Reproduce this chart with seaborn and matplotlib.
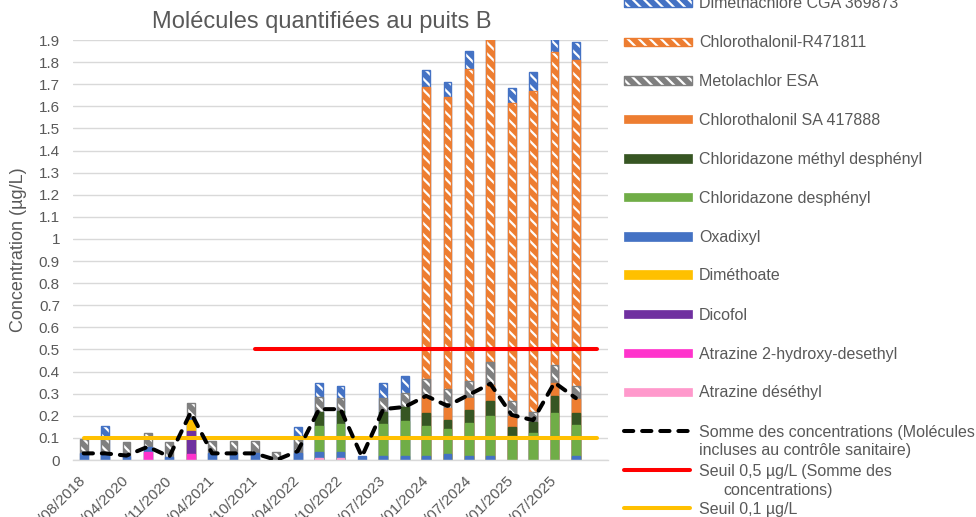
import numpy as np
import pandas as pd
import matplotlib
matplotlib.use("Agg")
import matplotlib.pyplot as plt
import seaborn as sns
from matplotlib.patches import Rectangle
from matplotlib.lines import Line2D

# ------------------------------------------------------------------ data
title = "Molécules quantifiées au puits B"
y_label = "Concentration (µg/L)"

# 25 sampling categories (only every other date label is displayed)
category_index = list(range(25))
x_tick_positions = [0, 2, 4, 6, 8, 10, 12, 14, 16, 18, 20, 22]
x_tick_labels = ["/08/2018", "/04/2020", "/11/2020", "/04/2021", "/10/2021", "/04/2022",
                 "/10/2022", "/07/2023", "/01/2024", "/07/2024", "/01/2025", "/07/2025"]

y_ticks = [0, 0.1, 0.2, 0.3, 0.4, 0.5, 0.6, 0.7, 0.8, 0.9, 1.0,
           1.1, 1.2, 1.3, 1.4, 1.5, 1.6, 1.7, 1.8, 1.9]
y_tick_labels = ["0", "0.1", "0.2", "0.3", "0.4", "0.5", "0.6", "0.7", "0.8", "0.9", "1",
                 "1.1", "1.2", "1.3", "1.4", "1.5", "1.6", "1.7", "1.8", "1.9"]

# stacked series (bottom -> top), 24 sampled dates
atrazine_desethyl = [0, 0, 0, 0, 0, 0, 0, 0, 0, 0, 0, 0.01, 0.01, 0, 0, 0, 0, 0, 0, 0, 0, 0, 0, 0]
atrazine_2hydroxy = [0, 0, 0, 0.035, 0, 0.025, 0, 0, 0, 0, 0, 0, 0, 0, 0, 0, 0, 0, 0, 0, 0, 0, 0, 0]
dicofol = [0, 0, 0, 0, 0, 0.105, 0, 0, 0, 0, 0, 0, 0, 0, 0, 0, 0, 0, 0, 0, 0, 0, 0, 0]
dimethoate = [0, 0, 0, 0, 0, 0.05, 0, 0, 0, 0, 0, 0, 0, 0, 0, 0, 0, 0, 0, 0, 0, 0, 0, 0]
oxadixyl = [0.03, 0.03, 0.02, 0.025, 0.015, 0.008, 0.03, 0.03, 0.03, 0, 0.03, 0.028,
            0.028, 0.018, 0.018, 0.018, 0.018, 0.027, 0.018, 0.018, 0, 0, 0, 0.018]
chloridazone_desphenyl = [0, 0, 0, 0, 0, 0, 0, 0, 0, 0, 0, 0.117,
                          0.123, 0, 0.143, 0.16, 0.137, 0.113, 0.151, 0.18, 0.11, 0.124, 0.212, 0.14]
chloridazone_methyl_desphenyl = [0, 0, 0, 0, 0, 0, 0, 0, 0, 0, 0, 0.064,
                                 0.061, 0, 0.058, 0.063, 0.057, 0.04, 0.057, 0.07, 0.04, 0.049, 0.078, 0.056]
chlorothalonil_sa = [0, 0, 0, 0, 0, 0, 0, 0, 0, 0, 0, 0,
                     0, 0, 0, 0, 0.073, 0.057, 0.055, 0.07, 0.048, 0, 0.057, 0.061]
metolachlor_esa = [0.067, 0.065, 0.06, 0.06, 0.067, 0.068, 0.055, 0.055, 0.055, 0.035, 0.07, 0.068,
                   0.057, 0, 0.06, 0.061, 0.083, 0.083, 0.076, 0.105, 0.068, 0.046, 0.083, 0.06]
chlorothalonil_r471811 = [0, 0, 0, 0, 0, 0, 0, 0, 0, 0, 0, 0,
                          0, 0, 0, 0, 1.318, 1.324, 1.411, 1.56, 1.349, 1.451, 1.416, 1.473]
dimethachlore_cga = [0, 0.059, 0, 0, 0, 0, 0, 0, 0, 0, 0.05, 0.06,
                     0.056, 0, 0.071, 0.078, 0.08, 0.068, 0.083, 0.08, 0.07, 0.085, 0.06, 0.082]

# line series
somme = [0.03, 0.03, 0.02, 0.06, 0.015, 0.215, 0.03, 0.03, 0.03, 0.0, 0.04, 0.23,
         0.23, 0.015, 0.23, 0.24, 0.29, 0.245, 0.295, 0.345, 0.204, 0.18, 0.35, 0.28]
seuil_05 = [np.nan, np.nan, np.nan, np.nan, np.nan, np.nan, np.nan, np.nan, 0.5, 0.5, 0.5, 0.5,
            0.5, 0.5, 0.5, 0.5, 0.5, 0.5, 0.5, 0.5, 0.5, 0.5, 0.5, 0.5, 0.5]
seuil_01 = [0.1, 0.1, 0.1, 0.1, 0.1, 0.1, 0.1, 0.1, 0.1, 0.1, 0.1, 0.1,
            0.1, 0.1, 0.1, 0.1, 0.1, 0.1, 0.1, 0.1, 0.1, 0.1, 0.1, 0.1, 0.1]

# ------------------------------------------------------------------ style
sns.set_theme(style="white")
plt.rcParams["font.family"] = ["Liberation Sans", "DejaVu Sans"]
plt.rcParams["hatch.linewidth"] = 1.6
TXT = "#595959"
GRID = "#d9d9d9"
HATCH = "\\\\\\"

stack = [
    ("Atrazine déséthyl", atrazine_desethyl, "#FF99CC", False),
    ("Atrazine 2-hydroxy-desethyl", atrazine_2hydroxy, "#FF33CC", False),
    ("Dicofol", dicofol, "#7030A0", False),
    ("Diméthoate", dimethoate, "#FFC000", False),
    ("Oxadixyl", oxadixyl, "#4472C4", False),
    ("Chloridazone desphényl", chloridazone_desphenyl, "#70AD47", False),
    ("Chloridazone méthyl desphényl", chloridazone_methyl_desphenyl, "#375623", False),
    ("Chlorothalonil SA 417888", chlorothalonil_sa, "#ED7D31", False),
    ("Metolachlor ESA", metolachlor_esa, "#7F7F7F", True),
    ("Chlorothalonil-R471811", chlorothalonil_r471811, "#ED7D31", True),
    ("Diméthachlore CGA 369873", dimethachlore_cga, "#4472C4", True),
]

W, H = 976, 517
fig = plt.figure(figsize=(W / 100, H / 100), dpi=100)
fig.patch.set_facecolor("white")
ax = fig.add_axes([73 / W, 1 - 460 / H, (608 - 73) / W, (460 - 40) / H])

values = np.array([s[1] for s in stack], dtype=float)
cum = np.cumsum(values, axis=0)
n = values.shape[1]
BW = 0.37

# draw cumulative heights from top layer down so that lower layers overpaint
for i in reversed(range(len(stack))):
    name, vals, col, hatched = stack[i]
    df = pd.DataFrame({"cat": np.arange(n), "top": cum[i], "seg": values[i]})
    df = df[df["seg"] > 0]
    if df.empty:
        continue
    common = dict(x="cat", y="top", data=df, order=category_index, width=BW,
                  color=col, saturation=1, errorbar=None, ax=ax)
    if hatched:
        sns.barplot(**common, edgecolor="white", linewidth=0, hatch=HATCH)
        sns.barplot(**common, fill=False, linewidth=1.0)
    else:
        sns.barplot(**common, edgecolor=col, linewidth=1.0)

pos = np.array(category_index, dtype=float)
d05 = pd.DataFrame({"x": pos, "y": seuil_05}).dropna()
d01 = pd.DataFrame({"x": pos, "y": seuil_01}).dropna()
sns.lineplot(data=d05, x="x", y="y", color="#FF0000", linewidth=2.9,
             solid_capstyle="round", errorbar=None, ax=ax, zorder=3)
sns.lineplot(data=d01, x="x", y="y", color="#FFC000", linewidth=2.9,
             solid_capstyle="round", errorbar=None, ax=ax, zorder=3)
dsum = pd.DataFrame({"x": np.arange(n, dtype=float), "y": somme})
sns.lineplot(data=dsum, x="x", y="y", color="black", linewidth=2.9,
             errorbar=None, ax=ax, zorder=4)
sum_line = ax.lines[-1]
sum_line.set_dashes([2.3, 2.2])
sum_line.set_dash_capstyle("round")

ax.set_xlim(-0.5, 24.5)
ax.set_ylim(0, 1.9)
ax.set_yticks(y_ticks)
ax.set_yticklabels(y_tick_labels)
ax.set_xticks(x_tick_positions)
ax.set_xticklabels(x_tick_labels)
ax.tick_params(axis="both", length=0, labelcolor=TXT, labelsize=11)
ax.tick_params(axis="y", pad=9.4)
ax.tick_params(axis="x", pad=14)
for lab in ax.get_xticklabels():
    lab.set_rotation(45)
    lab.set_ha("right")
    lab.set_va("center")
    lab.set_rotation_mode("anchor")

for s in ax.spines.values():
    s.set_visible(False)
ax.spines["bottom"].set_visible(True)
ax.spines["bottom"].set_color(GRID)
ax.spines["bottom"].set_linewidth(1.0)
ax.yaxis.grid(True, color=GRID, linewidth=1.0)
ax.xaxis.grid(False)
ax.set_axisbelow(True)
ax.set_xlabel("")
ax.set_ylabel(y_label, fontsize=13, color=TXT)
ax.yaxis.set_label_coords(-(73 - 18) / 535, 0.5)
ax.yaxis.label.set_va("center")

ax.set_title(title, fontsize=17, color=TXT, loc="left",
             x=(152 - 73) / 535, y=(460 - 28.3) / 420, pad=0, va="baseline")

# ------------------------------------------------------------------ legend (manual, right side)
def fx(px):
    return px / W


def fy(py):
    return 1 - py / H


LEG_FS = 11.5
legend_rows = [
    ("Diméthachlore CGA 369873", "hatch", "#4472C4", 2.8),
    ("Chlorothalonil-R471811", "hatch", "#ED7D31", 41.7),
    ("Metolachlor ESA", "hatch", "#7F7F7F", 80.5),
    ("Chlorothalonil SA 417888", "solid", "#ED7D31", 119.0),
    ("Chloridazone méthyl desphényl", "solid", "#375623", 158.5),
    ("Chloridazone desphényl", "solid", "#70AD47", 197.0),
    ("Oxadixyl", "solid", "#4472C4", 236.5),
    ("Diméthoate", "solid", "#FFC000", 274.5),
    ("Dicofol", "solid", "#7030A0", 313.8),
    ("Atrazine 2-hydroxy-desethyl", "solid", "#FF33CC", 352.8),
    ("Atrazine déséthyl", "solid", "#FF99CC", 391.8),
]
for label, kind, col, yc in legend_rows:
    x0, x1, hh = 623.5, 691.7, 8.4
    if kind == "hatch":
        fig.add_artist(Rectangle((fx(x0), fy(yc + hh / 2)), (x1 - x0) / W, hh / H,
                                 transform=fig.transFigure, facecolor=col,
                                 edgecolor="white", linewidth=0, hatch=HATCH))
        fig.add_artist(Rectangle((fx(x0), fy(yc + hh / 2)), (x1 - x0) / W, hh / H,
                                 transform=fig.transFigure, fill=False,
                                 edgecolor=col, linewidth=1.0))
    else:
        fig.add_artist(Rectangle((fx(x0), fy(yc + hh / 2)), (x1 - x0) / W, hh / H,
                                 transform=fig.transFigure, facecolor=col,
                                 edgecolor=col, linewidth=0.5))
    fig.text(fx(699), fy(yc + 5.7), label, fontsize=LEG_FS, color=TXT,
             ha="left", va="baseline")

# line entries
l1 = Line2D([fx(624), fx(691)], [fy(431), fy(431)], transform=fig.transFigure,
            color="black", linewidth=2.9)
l1.set_dashes([2.3, 2.2])
l1.set_dash_capstyle("round")
fig.add_artist(l1)
fig.text(fx(699), fy(431 + 5.7), "Somme des concentrations (Molécules",
         fontsize=LEG_FS, color=TXT, ha="left", va="baseline")
fig.text(fx(699), fy(449.3 + 5.7), "incluses au contrôle sanitaire)",
         fontsize=LEG_FS, color=TXT, ha="left", va="baseline")

fig.add_artist(Line2D([fx(624), fx(690)], [fy(470), fy(470)], transform=fig.transFigure,
                      color="#FF0000", linewidth=2.9, solid_capstyle="round"))
fig.text(fx(699), fy(470 + 5.7), "Seuil 0,5 µg/L (Somme des",
         fontsize=LEG_FS, color=TXT, ha="left", va="baseline")
fig.text(fx(723), fy(489.3 + 5.7), "concentrations)",
         fontsize=LEG_FS, color=TXT, ha="left", va="baseline")

fig.add_artist(Line2D([fx(624), fx(690)], [fy(508.3), fy(508.3)], transform=fig.transFigure,
                      color="#FFC000", linewidth=2.9, solid_capstyle="round"))
fig.text(fx(699), fy(508.3 + 5.7), "Seuil 0,1 µg/L",
         fontsize=LEG_FS, color=TXT, ha="left", va="baseline")

fig.savefig("out.png", dpi=100, facecolor="white")
